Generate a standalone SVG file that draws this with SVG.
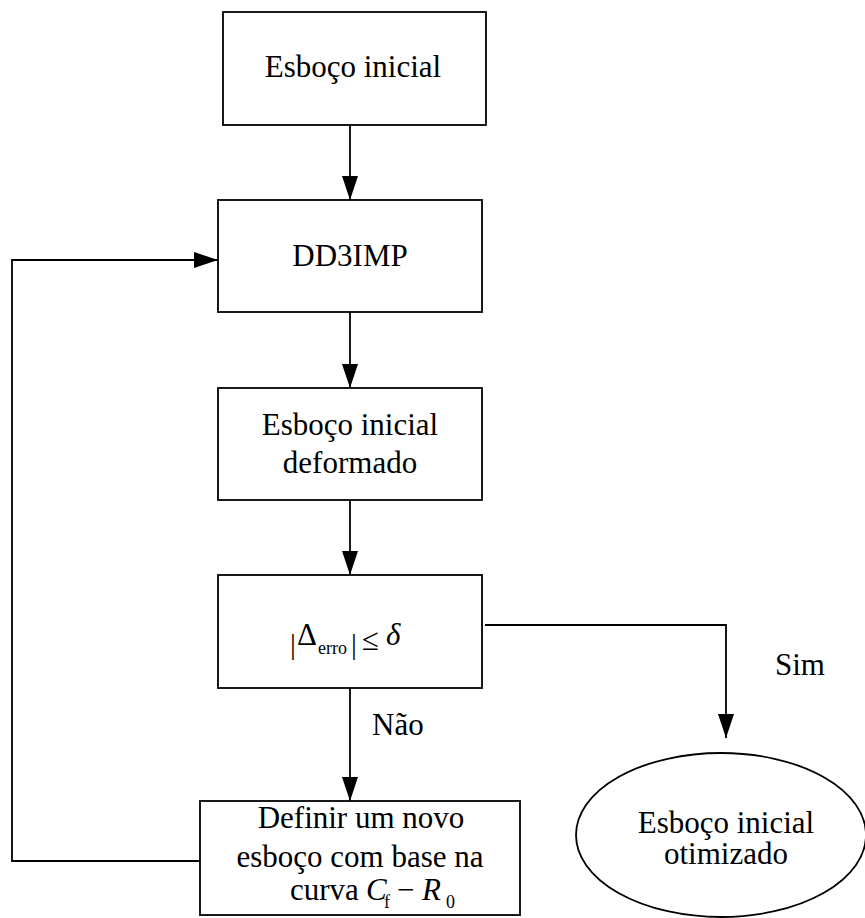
<svg xmlns="http://www.w3.org/2000/svg" width="865" height="918" viewBox="0 0 865 918">
<style>
.box{fill:#fff;stroke:#000;stroke-width:1.8}
.ln{fill:none;stroke:#000;stroke-width:1.8}
</style>
<defs>
<marker id="ah" markerUnits="userSpaceOnUse" markerWidth="25" markerHeight="17" refX="24" refY="8" orient="auto">
<path d="M0,0 L24,8 L0,16 z" fill="#000"/>
</marker>
</defs>
<rect width="865" height="918" fill="#fff"/>
<g id="connectors">
<line class="ln" x1="350" y1="125" x2="350" y2="200" marker-end="url(#ah)"/>
<line class="ln" x1="350" y1="312" x2="350" y2="388" marker-end="url(#ah)"/>
<line class="ln" x1="350" y1="500" x2="350" y2="575" marker-end="url(#ah)"/>
<line class="ln" x1="350" y1="688" x2="350" y2="801" marker-end="url(#ah)"/>
<polyline class="ln" points="485,625 726,625 726,738" marker-end="url(#ah)"/>
<polyline class="ln" points="200,861 12,861 12,260 218,260" marker-end="url(#ah)"/>
<text font-family="Liberation Serif" font-size="31" x="372" y="735">Não</text>
<text font-family="Liberation Serif" font-size="31" x="775" y="675">Sim</text>
</g>
<g id="n1">
<rect class="box" x="223" y="12" width="263" height="113"/>
<text font-family="Liberation Serif" font-size="31" text-anchor="middle" x="353" y="77">Esboço inicial</text>
</g>
<g id="n2">
<rect class="box" x="218" y="200" width="264" height="112"/>
<text font-family="Liberation Serif" font-size="31" text-anchor="middle" x="350" y="266">DD3IMP</text>
</g>
<g id="n3">
<rect class="box" x="218" y="388" width="264" height="112"/>
<text font-family="Liberation Serif" font-size="31" text-anchor="middle" x="350" y="435">Esboço inicial</text>
<text font-family="Liberation Serif" font-size="31" text-anchor="middle" x="350" y="473">deformado</text>
</g>
<g id="n4">
<rect class="box" x="218" y="575" width="264" height="113"/>
<text font-family="Liberation Serif" font-size="29" x="290" y="654">|</text>
<text font-family="Liberation Serif" font-size="31" x="297" y="645">Δ</text>
<text font-family="Liberation Serif" font-size="18" x="318" y="654">erro</text>
<text font-family="Liberation Serif" font-size="29" x="351" y="654">|</text>
<text font-family="Liberation Serif" font-size="31" x="362" y="650">≤</text>
<text font-family="Liberation Serif" font-size="31" font-style="italic" x="386" y="645">δ</text>
</g>
<g id="n5">
<rect class="box" x="200" y="801" width="320" height="114"/>
<text font-family="Liberation Serif" font-size="31" text-anchor="middle" x="361" y="828">Definir um novo</text>
<text font-family="Liberation Serif" font-size="31" text-anchor="middle" x="360" y="867">esboço com base na</text>
<text font-family="Liberation Serif" font-size="31" x="290" y="900">curva</text>
<text font-family="Liberation Serif" font-size="31" font-style="italic" x="366" y="900">C</text>
<text font-family="Liberation Serif" font-size="18" x="384" y="908">f</text>
<text font-family="Liberation Serif" font-size="31" x="397" y="900">−</text>
<text font-family="Liberation Serif" font-size="31" font-style="italic" x="422" y="900">R</text>
<text font-family="Liberation Serif" font-size="18" x="446" y="908">0</text>
</g>
<g id="n6">
<ellipse class="box" cx="721" cy="835" rx="145" ry="82"/>
<text font-family="Liberation Serif" font-size="31" text-anchor="middle" x="726" y="833">Esboço inicial</text>
<text font-family="Liberation Serif" font-size="31" text-anchor="middle" x="726" y="864">otimizado</text>
</g>
</svg>
